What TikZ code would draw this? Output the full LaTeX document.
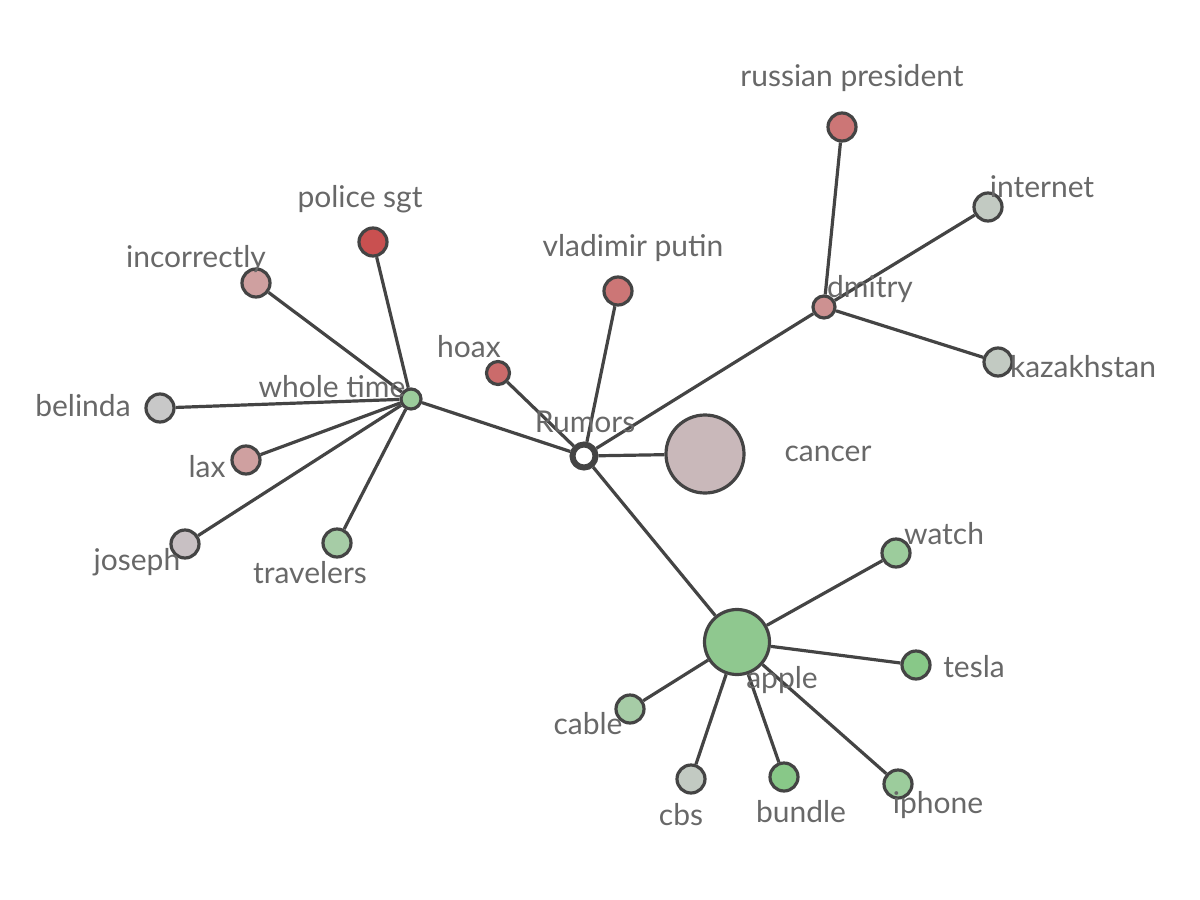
\documentclass[tikz,border=0pt]{standalone}
\usepackage{fontspec}
\setmainfont{Lato}
\definecolor{edgegray}{RGB}{68, 68, 68}
\definecolor{labelgray}{RGB}{104, 104, 104}
\definecolor{redA}{RGB}{201, 80, 80}
\definecolor{redB}{RGB}{203, 107, 107}
\definecolor{redC}{RGB}{204, 118, 118}
\definecolor{redD}{RGB}{205, 145, 145}
\definecolor{pinkA}{RGB}{207, 160, 160}
\definecolor{pinkB}{RGB}{201, 184, 186}
\definecolor{greyA}{RGB}{200, 192, 195}
\definecolor{greyB}{RGB}{200, 200, 200}
\definecolor{greyC}{RGB}{194, 202, 194}
\definecolor{greenA}{RGB}{166, 204, 166}
\definecolor{greenB}{RGB}{156, 204, 156}
\definecolor{greenC}{RGB}{143, 200, 143}
\definecolor{greenD}{RGB}{136, 200, 136}

\begin{document}
\begin{tikzpicture}[x=1pt, y=-1pt,
    term/.style={circle, draw=edgegray, line width=3.2pt, inner sep=0pt,
        minimum size=28pt},
    link/.style={draw=edgegray, line width=3.2pt},
    tag/.style={anchor=base, inner sep=0pt, text=labelgray,
        font=\fontsize{30}{34}\selectfont}
]

    \useasboundingbox (0, 0) rectangle (1200, 900);

    % hub
    \node[circle, draw=edgegray, line width=6pt, fill=white, minimum size=23pt,
        inner sep=0pt] (rumors) at (584, 456) {};
    \node[term, fill=pinkB, minimum size=78pt] (cancer) at (705, 454) {};
    \node[term, fill=greenC, minimum size=65pt] (apple) at (737, 642) {};
    \node[term, fill=greenB, minimum size=20pt] (wholetime) at (411, 399) {};
    \node[term, fill=redD, minimum size=22pt] (dmitry) at (824, 307) {};
    \node[term, fill=redB, minimum size=23pt] (hoax) at (498, 373) {};
    \node[term, fill=redC] (putin) at (618, 291) {};

    % dmitry group
    \node[term, fill=redC] (president) at (842, 127) {};
    \node[term, fill=greyC] (internet) at (988, 207) {};
    \node[term, fill=greyC] (kazakhstan) at (998, 362) {};

    % whole time group
    \node[term, fill=redA] (policesgt) at (373, 242) {};
    \node[term, fill=pinkA] (incorrectly) at (256, 283) {};
    \node[term, fill=greyB] (belinda) at (160, 408) {};
    \node[term, fill=pinkA] (lax) at (246, 460) {};
    \node[term, fill=greyA] (joseph) at (185, 544) {};
    \node[term, fill=greenA] (travelers) at (337, 543) {};

    % apple group
    \node[term, fill=greenB] (watch) at (896, 553) {};
    \node[term, fill=greenD] (tesla) at (916, 665) {};
    \node[term, fill=greenA] (cable) at (630, 709) {};
    \node[term, fill=greyC] (cbs) at (691, 779) {};
    \node[term, fill=greenD] (bundle) at (784, 777) {};
    \node[term, fill=greenB] (iphone) at (898, 784) {};

    \foreach \from/\to in {rumors/wholetime, rumors/hoax, rumors/putin,
        rumors/dmitry, rumors/cancer, rumors/apple,
        dmitry/president, dmitry/internet, dmitry/kazakhstan,
        wholetime/policesgt, wholetime/incorrectly, wholetime/belinda,
        wholetime/lax, wholetime/joseph, wholetime/travelers,
        apple/watch, apple/tesla, apple/cable, apple/cbs, apple/bundle,
        apple/iphone} {%
        \draw[link] (\from) -- (\to);
    };

    \node[tag] (rumorslbl) at (585, 432) {Rumors};
    \node[tag] (cancerlbl) at (828, 461) {cancer};
    \node[tag] (applelbl) at (782, 688) {apple};
    \node[tag] (wholetimelbl) at (332, 397) {whole time};
    \node[tag] (dmitrylbl) at (870, 297) {dmitry};
    \node[tag] (hoaxlbl) at (469, 357) {hoax};
    \node[tag] (putinlbl) at (633, 256) {vladimir putin};
    \node[tag] (presidentlbl) at (852, 86) {russian president};
    \node[tag] (internetlbl) at (1042, 197) {internet};
    \node[tag] (kazakhstanlbl) at (1083, 377) {kazakhstan};
    \node[tag] (policesgtlbl) at (360, 207) {police sgt};
    \node[tag] (incorrectlylbl) at (196, 267) {incorrectly};
    \node[tag] (belindalbl) at (83, 416) {belinda};
    \node[tag] (laxlbl) at (207, 477) {lax};
    \node[tag] (josephlbl) at (137, 570) {joseph};
    \node[tag] (travelerslbl) at (310, 583) {travelers};
    \node[tag] (watchlbl) at (944, 544) {watch};
    \node[tag] (teslalbl) at (974, 677) {tesla};
    \node[tag] (cablelbl) at (588, 734) {cable};
    \node[tag] (cbslbl) at (681, 825) {cbs};
    \node[tag] (bundlelbl) at (801, 822) {bundle};
    \node[tag] (iphonelbl) at (938, 813) {iphone};

\end{tikzpicture}
\end{document}
